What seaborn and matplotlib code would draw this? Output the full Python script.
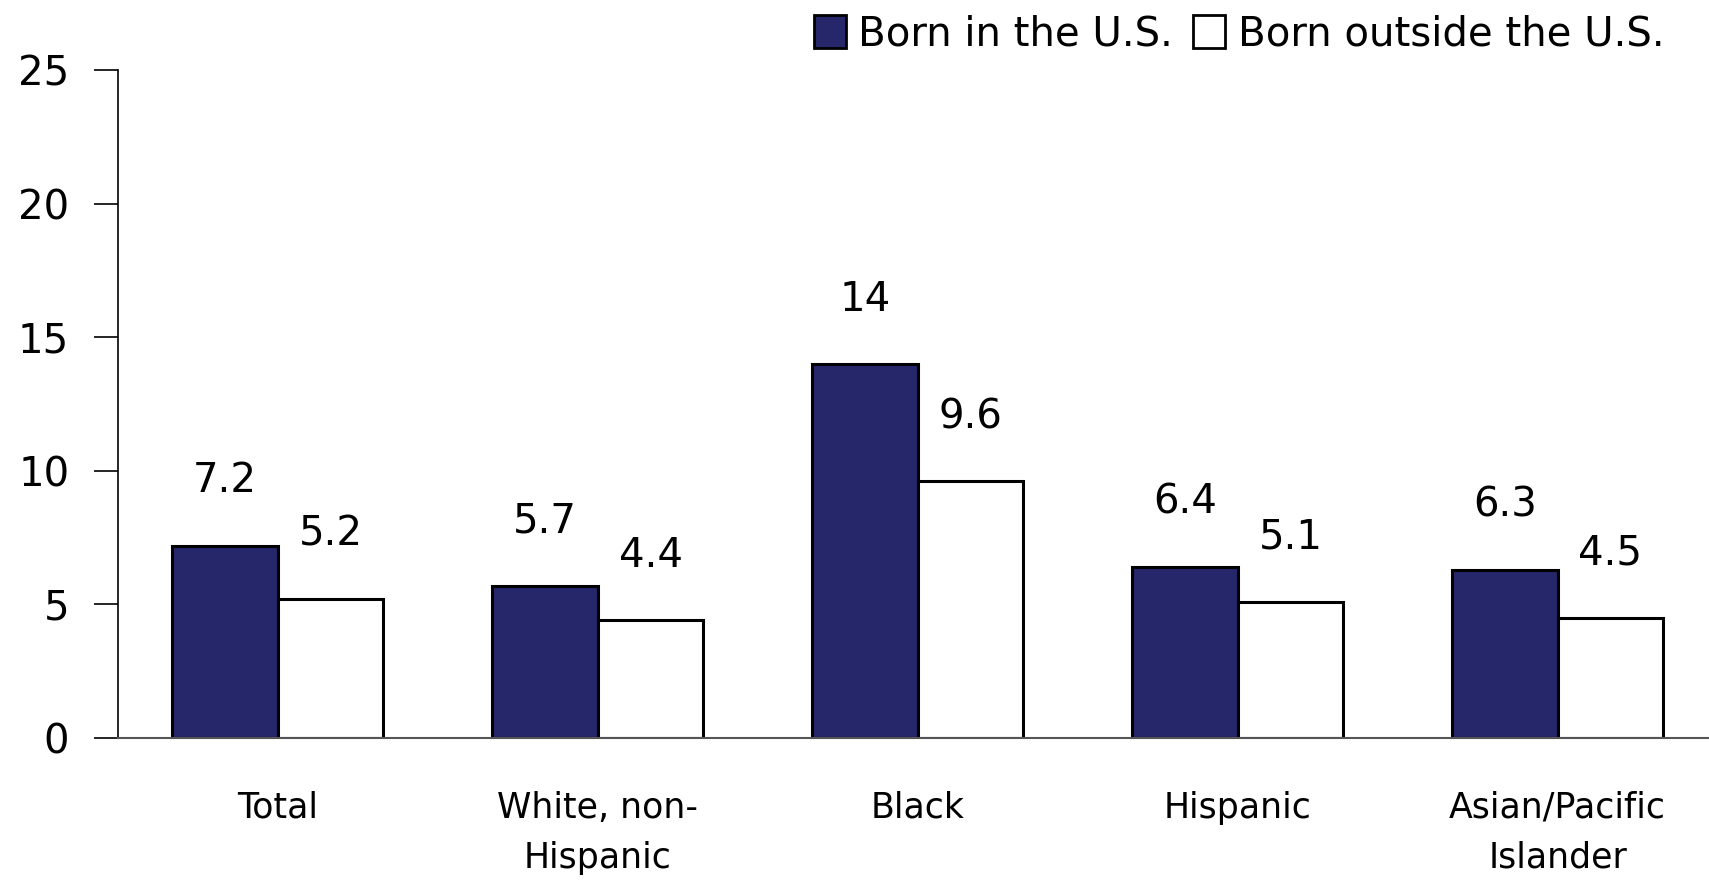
import matplotlib
matplotlib.use('Agg')
import matplotlib.pyplot as plt
import seaborn as sns
import pandas as pd
from matplotlib.patches import Patch

categories = ['Total', 'White, non-\nHispanic', 'Black', 'Hispanic', 'Asian/Pacific\nIslander']
born_us = [7.2, 5.7, 14, 6.4, 6.3]
born_outside = [5.2, 4.4, 9.6, 5.1, 4.5]
series = ['Born in the U.S.', 'Born outside the U.S.']
colors = ['#26266B', '#ffffff']

df = pd.DataFrame({
    'Group': categories * 2,
    'Rate': born_us + born_outside,
    'Birthplace': [series[0]] * len(categories) + [series[1]] * len(categories),
})

sns.set_style('white')
plt.rcParams['font.family'] = ['DejaVu Sans']
plt.rcParams['text.color'] = 'black'
plt.rcParams['xtick.color'] = 'black'
plt.rcParams['ytick.color'] = 'black'

fig = plt.figure(figsize=(17.09, 8.80), dpi=100)
ax = fig.add_axes([0.069, 0.1614, 0.936, 0.7591])

sns.barplot(data=df, x='Group', y='Rate', hue='Birthplace', order=categories,
            hue_order=series, palette=colors, saturation=1, width=0.66, gap=0,
            edgecolor='black', linewidth=2.2, ax=ax, legend=False)

# value labels above bars
for container in ax.containers:
    for bar in container:
        h = bar.get_height()
        ax.text(bar.get_x() + bar.get_width() / 2, h + 2.4, f'{h:g}',
                ha='center', va='center', fontsize=29, color='black')

ax.set_ylim(0, 25)
ax.set_yticks([0, 5, 10, 15, 20, 25])
ax.set_xlim(-0.5, len(categories) - 0.5)
ax.set_xlabel('')
ax.set_ylabel('')

ax.set_xticks(range(len(categories)))
ax.set_xticklabels(categories, fontsize=25, linespacing=1.6)
ax.set_xticks([i - 0.5 for i in range(len(categories) + 1)], minor=True)
ax.tick_params(axis='x', which='major', length=0, pad=38)
ax.tick_params(axis='x', which='minor', length=12, width=1.2, color='black', direction='out')
ax.tick_params(axis='y', which='major', length=17, width=1.2, color='black',
               direction='out', labelsize=29, pad=18, left=True)

for side in ['top', 'right']:
    ax.spines[side].set_visible(False)
ax.spines['left'].set_color('black')
ax.spines['left'].set_linewidth(1.2)
ax.spines['bottom'].set_color('#555555')
ax.spines['bottom'].set_linewidth(1.5)

handles = [Patch(facecolor=c, edgecolor='black', linewidth=2) for c in colors]
fig.legend(handles, series, loc='upper right', bbox_to_anchor=(0.995, 1.025),
           ncol=2, frameon=False, fontsize=29, handlelength=0.8, handleheight=0.9,
           handletextpad=0.3, columnspacing=0.5)

fig.savefig('out.png', dpi=100, facecolor='white')
